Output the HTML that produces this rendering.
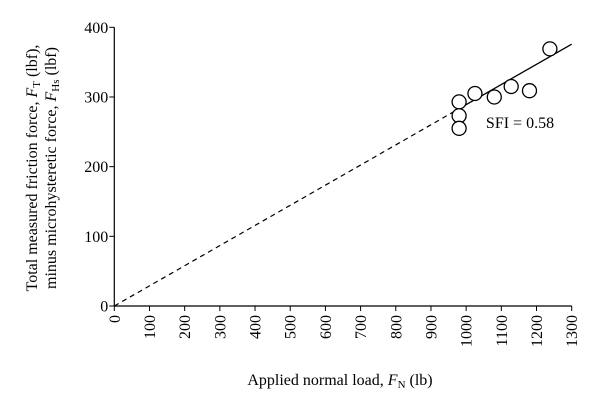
<!DOCTYPE html>
<html><head><meta charset="utf-8"><style>
body{margin:0;background:#fff}
svg{display:block;font-family:"Liberation Serif",serif}
</style></head><body>
<svg id="chart" width="600" height="410">
<g id="axes"></g><g id="marks"></g>
<text x="340" y="385" font-size="16" text-anchor="middle">Applied normal load, <tspan font-style="italic">F</tspan><tspan font-size="11" dy="3">N</tspan><tspan dy="-3">  (lb)</tspan></text>
<g transform="translate(37,168) rotate(-90)">
<text x="0" y="0" font-size="16" text-anchor="middle">Total measured friction force, <tspan font-style="italic">F</tspan><tspan font-size="11" dy="3">T</tspan><tspan dy="-3"> (lbf),</tspan></text>
<text x="0" y="19" font-size="16" text-anchor="middle">minus microhysteretic force, <tspan font-style="italic">F</tspan><tspan font-size="11" dy="3">Hs</tspan><tspan dy="-3"> (lbf)</tspan></text>
</g>
<text x="520" y="128" font-size="16" text-anchor="middle">SFI = 0.58</text>
</svg>
<script>
const xTicks=[0,100,200,300,400,500,600,700,800,900,1000,1100,1200,1300];
const yTicks=[0,100,200,300,400];
const loadX=[980,980,980,1025,1080,1128,1180,1238];
const forceY=[293,273,255,305,300,315,309,369];
const fitSlope=0.289;
const fitSolidStart=960;
const X0=114.3,X1=571.7,Y0=306,Y1=27.3;
const sx=v=>X0+(v-0)/(1300-0)*(X1-X0);
const sy=v=>Y0-(v-0)/(400-0)*(Y0-Y1);
const NS="http://www.w3.org/2000/svg";
const axes=document.getElementById('axes'),marks=document.getElementById('marks');
function mk(tag,attrs,parent){const e=document.createElementNS(NS,tag);for(const k in attrs)e.setAttribute(k,attrs[k]);parent.appendChild(e);return e;}
let l=mk('line',{x1:X0,y1:Y0,x2:X1,y2:Y0,stroke:'#000','stroke-width':1.2},axes);


l=mk('line',{x1:X0,y1:Y0,x2:X0,y2:Y1,stroke:'#000','stroke-width':1.2},axes);


xTicks.forEach(t=>{
 const x=sx(t);
 const tk=mk('line',{x1:x,y1:Y0,x2:x,y2:Y0+5,stroke:'#000','stroke-width':1},axes);
 
 
 const tx=mk('text',{transform:`translate(${x+5.5},${Y0+9}) rotate(-90)`,'font-size':16,'text-anchor':'end'},axes);
 tx.textContent=t;
 
 
});
yTicks.forEach(t=>{
 const y=sy(t);
 const tk=mk('line',{x1:X0-5,y1:y,x2:X0,y2:y,stroke:'#000','stroke-width':1},axes);
 
 
 const tx=mk('text',{x:X0-6,y:y+5.5,'font-size':16,'text-anchor':'end'},axes);
 tx.textContent=t;
 
 
});
let d=mk('line',{x1:sx(0),y1:sy(0),x2:sx(fitSolidStart),y2:sy(fitSlope*fitSolidStart),stroke:'#000','stroke-width':1.2,'stroke-dasharray':'5,4'},marks);


d=mk('line',{x1:sx(fitSolidStart),y1:sy(fitSlope*fitSolidStart),x2:sx(1300),y2:sy(fitSlope*1300),stroke:'#000','stroke-width':1.3},marks);


loadX.forEach((v,i)=>{
 const c=mk('circle',{cx:sx(v),cy:sy(forceY[i]),r:7,fill:'#fff',stroke:'#000','stroke-width':1.3},marks);
 
 
});
</script>
</body></html>
